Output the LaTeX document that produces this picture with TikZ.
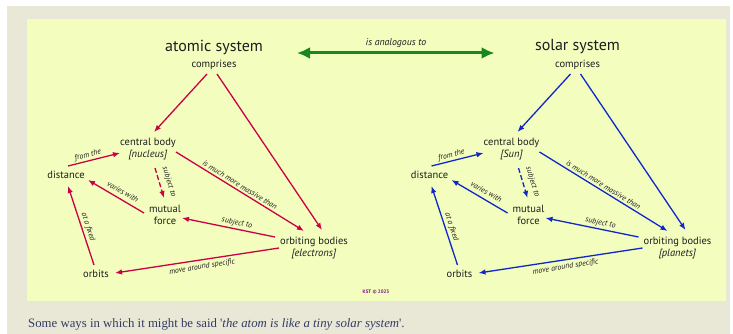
\documentclass[tikz,border=0pt]{standalone}
\usepackage{fontspec}
\setmainfont{PT Sans}
\newfontfamily\capfont{Liberation Serif}
\usetikzlibrary{arrows.meta}
\definecolor{pageyellow}{RGB}{242,253,190}
\definecolor{panelbeige}{RGB}{233,231,214}
\definecolor{atomred}{RGB}{204,0,68}
\definecolor{solarblue}{RGB}{16,40,200}
\definecolor{anagreen}{RGB}{24,135,30}
\definecolor{kstpurple}{RGB}{130,20,130}
\definecolor{captionblue}{RGB}{50,60,100}
\definecolor{inkgray}{RGB}{30,30,30}
\tikzset{
  titletext/.style={font=\fontsize{16}{18}\selectfont, text=inkgray, inner sep=0pt},
  conc/.style={font=\fontsize{10.5}{12.5}\selectfont, text=inkgray, inner sep=0pt, align=center},
  lab/.style={font=\fontsize{7.8}{8.5}\selectfont\itshape, text=inkgray, inner sep=0pt},
}
\newcommand\conceptmap[6]{%
\begin{scope}[xshift=#2,
  conn/.style={draw=#3, line width=1.3pt, -{Latex[length=7pt,width=5.5pt]}}]
\node[titletext] (#1t) at (214,47) {#4};
\node[conc] (#1comp) at (214,65) {comprises};
\node[conc] (#1cb) at (148,149) {central body\\\textit{[#5]}};
\node[conc] (#1dist) at (66,175) {distance};
\node[conc] (#1mf) at (165,215) {mutual\\force};
\node[conc] (#1ob) at (314,248) {orbiting bodies\\\textit{[#6]}};
\node[conc] (#1orb) at (96,274) {orbits};
\draw[conn] ([shift={(-7,9)}]#1comp.center) -- ([shift={(6,-17)}]#1cb.center);
\draw[conn] ([shift={(3,9)}]#1comp.center) -- ([shift={(8,-18)}]#1ob.center);
\draw[conn] ([shift={(2,-9)}]#1dist.center) -- ([shift={(-28,4)}]#1cb.center);
\draw[conn, dash pattern=on 5pt off 2.5pt] ([shift={(7,19)}]#1cb.center) -- ([shift={(-1,-17)}]#1mf.center);
\draw[conn] ([shift={(-21,-2)}]#1mf.center) -- ([shift={(22,5)}]#1dist.center);
\draw[conn] ([shift={(28,3)}]#1cb.center) -- ([shift={(-10,-17)}]#1ob.center);
\draw[conn] ([shift={(-39,-11)}]#1ob.center) -- ([shift={(17,3)}]#1mf.center);
\draw[conn] ([shift={(-35,0)}]#1ob.center) -- ([shift={(19,-1)}]#1orb.center);
\draw[conn] ([shift={(-2,-9)}]#1orb.center) -- ([shift={(2,11)}]#1dist.center);
\node[lab, rotate=14] (#1l1) at (88,155) {from the};
\node[lab, rotate=-73] (#1l2) at (169,182) {subject to};
\node[lab, rotate=-30] (#1l3) at (123,192) {varies with};
\node[lab, rotate=-32] (#1l4) at (240,185) {is much more massive than};
\node[lab, rotate=-11] (#1l5) at (237,223) {subject to};
\node[lab, rotate=9] (#1l6) at (202,267) {move around specific};
\node[lab, rotate=-72] (#1l7) at (88,227) {at a fixed};
\end{scope}}
\begin{document}
\begin{tikzpicture}[x=1pt, y=-1pt]
\useasboundingbox (0,0) rectangle (733,334);
\fill[white] (0,0) rectangle (733,334);
\fill[panelbeige] (7,6) rectangle (730,334);
\fill[pageyellow] (27,19) rectangle (726,301);
\conceptmap{A}{0}{atomred}{atomic system}{nucleus}{electrons}
\conceptmap{S}{363.5}{solarblue}{solar system}{Sun}{planets}
\draw[anagreen, line width=3pt, {Latex[length=13pt,width=12pt]}-{Latex[length=13pt,width=12pt]}]
  ([shift={(83,6)}]At.center) -- ([shift={(-83,6)}]St.center);
\node[lab, font=\fontsize{9.8}{11}\selectfont\itshape] (ana) at (396,43) {is analogous to};
\node[font=\fontsize{5}{6}\selectfont\bfseries, text=kstpurple, inner sep=0pt] (kst) at (376,292) {KST © 2023};
\node[anchor=base west, font=\capfont\fontsize{12.8}{14}\selectfont, text=captionblue, inner sep=0pt] (cap) at (28,327)
  {Some ways in which it might be said '\textit{the atom is like a tiny solar system}'.};
\end{tikzpicture}
\end{document}
